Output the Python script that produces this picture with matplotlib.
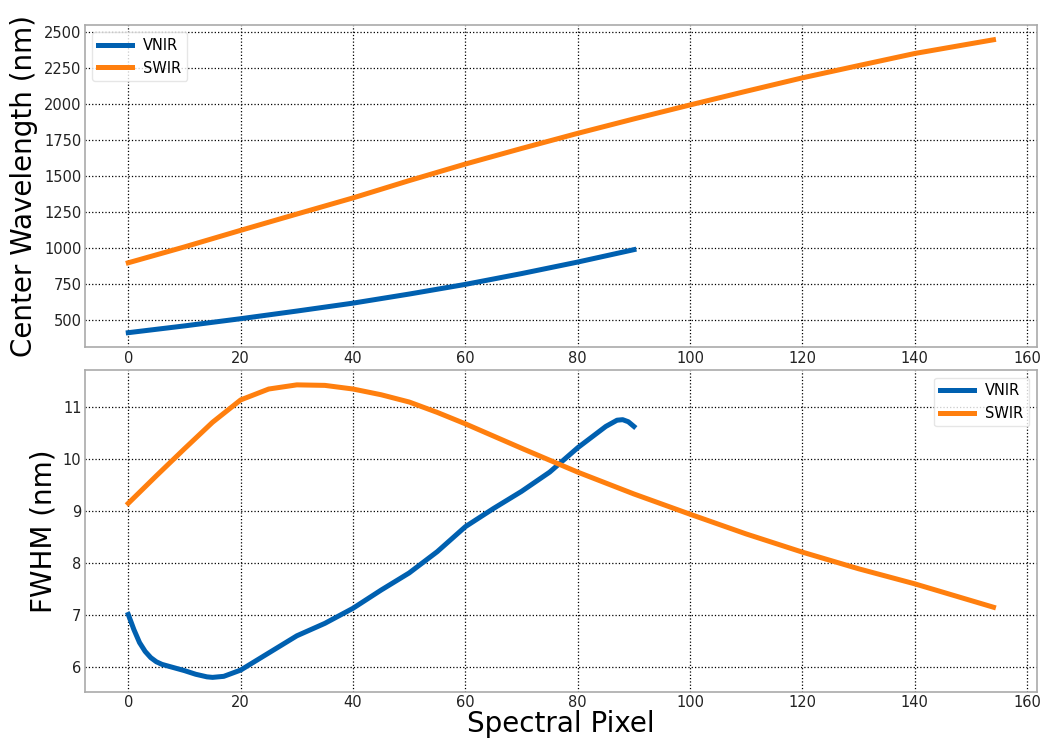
import matplotlib
matplotlib.use("Agg")
import matplotlib.pyplot as plt

plt.rcParams['font.family'] = ['DejaVu Sans']

# ---- data ----
vnir_px_wl = [0, 10, 20, 30, 40, 50, 60, 70, 80, 90]
vnir_wl = [415, 462, 512, 565, 620, 683, 750, 825, 905, 991]

swir_px_wl = [0, 10, 20, 30, 40, 50, 60, 70, 80, 90, 100, 110, 120, 130, 140, 150, 154]
swir_wl = [900, 1010, 1125, 1238, 1350, 1470, 1585, 1693, 1798, 1898, 1995, 2090, 2183, 2268, 2352, 2420, 2447]

vnir_px_fw = [0, 1, 2, 3, 4, 5, 6, 8, 10, 12, 14, 15, 17, 20, 25, 30, 35, 40, 45, 50, 55, 60, 65, 70, 75, 80, 85, 87, 88, 89, 90]
vnir_fw = [7.01, 6.72, 6.47, 6.30, 6.18, 6.10, 6.05, 5.99, 5.93, 5.86, 5.81, 5.80, 5.82, 5.94, 6.27, 6.60, 6.84, 7.13, 7.48, 7.81, 8.22, 8.70, 9.05, 9.38, 9.75, 10.22, 10.63, 10.75, 10.76, 10.72, 10.63]

swir_px_fw = [0, 5, 10, 15, 20, 25, 30, 35, 40, 45, 50, 55, 60, 70, 80, 90, 100, 110, 120, 130, 140, 154]
swir_fw = [9.15, 9.68, 10.20, 10.71, 11.14, 11.35, 11.43, 11.42, 11.35, 11.24, 11.10, 10.90, 10.68, 10.21, 9.75, 9.33, 8.94, 8.56, 8.21, 7.89, 7.60, 7.15]

labels = ["VNIR", "SWIR"]
colors = ["#0060b0", "#ff7f0e"]

fig = plt.figure(figsize=(10.47, 7.39), dpi=100)
ax1 = fig.add_axes([0.0812, 0.530, 0.909, 0.436])
ax2 = fig.add_axes([0.0812, 0.0636, 0.909, 0.4354])

ax1.plot(vnir_px_wl, vnir_wl, color=colors[0], lw=3.6, label=labels[0])
ax1.plot(swir_px_wl, swir_wl, color=colors[1], lw=3.6, label=labels[1])
ax2.plot(vnir_px_fw, vnir_fw, color=colors[0], lw=3.6, label=labels[0])
ax2.plot(swir_px_fw, swir_fw, color=colors[1], lw=3.6, label=labels[1])

ax1.set_yticks([500, 750, 1000, 1250, 1500, 1750, 2000, 2250, 2500])
ax2.set_yticks([6, 7, 8, 9, 10, 11])
for ax in (ax1, ax2):
    ax.set_xticks([0, 20, 40, 60, 80, 100, 120, 140, 160])
    ax.grid(True, color="black", linestyle=":", linewidth=0.9)
    ax.set_axisbelow(True)
    ax.tick_params(length=0, labelsize=10.5, pad=2.5, colors="#222222")
    for s in ax.spines.values():
        s.set_color("#aaaaaa")
        s.set_linewidth(1.2)

ax1.set_ylabel("Center Wavelength (nm)", fontsize=20, labelpad=4)
ax2.set_ylabel("FWHM (nm)", fontsize=20, labelpad=4)
ax2.set_xlabel("Spectral Pixel", fontsize=20, labelpad=0)

leg1 = ax1.legend(loc="upper left", fontsize=10.5, frameon=True, handlelength=2.3)
leg2 = ax2.legend(loc="upper right", fontsize=10.5, frameon=True, handlelength=2.3)
for leg in (leg1, leg2):
    leg.get_frame().set_edgecolor("#e0e0e0")

fig.savefig("out.png", dpi=100)
